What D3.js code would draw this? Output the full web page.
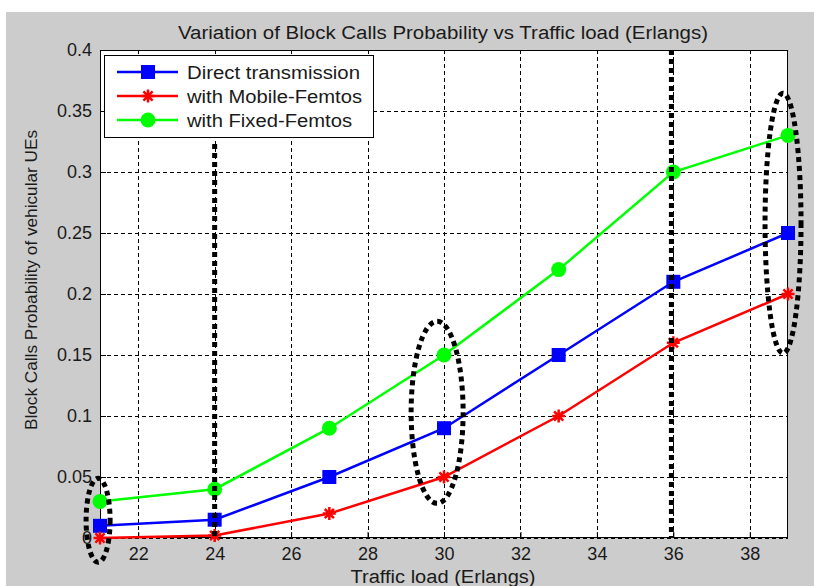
<!DOCTYPE html>
<html><head><meta charset="utf-8">
<script src="https://cdn.jsdelivr.net/npm/d3@7"></script>
<style>
html,body{margin:0;padding:0;background:#fff;}
text{font-family:"Liberation Sans",Arial,sans-serif;fill:#1a1a1a;}
</style></head>
<body><svg id="chart" width="814" height="586"></svg>
<script>
// ---- data ----
const trafficLoad = [21, 24, 27, 30, 33, 36, 39];
const directTransmission = [0.01, 0.015, 0.05, 0.09, 0.15, 0.21, 0.25];
const mobileFemtos = [0.0, 0.002, 0.02, 0.05, 0.10, 0.16, 0.20];
const fixedFemtos = [0.03, 0.04, 0.09, 0.15, 0.22, 0.30, 0.33];
const seriesNames = ["Direct transmission", "with Mobile-Femtos", "with Fixed-Femtos"];
const xTicks = [22, 24, 26, 28, 30, 32, 34, 36, 38];
const yTicks = [0, 0.05, 0.1, 0.15, 0.2, 0.25, 0.3, 0.35, 0.4];
const yTickLabels = ["0", "0.05", "0.1", "0.15", "0.2", "0.25", "0.3", "0.35", "0.4"];
const titleText = "Variation of Block Calls Probability vs Traffic load (Erlangs)";
const xLabel = "Traffic load (Erlangs)";
const yLabel = "Block Calls Probability of vehicular UEs";
// annotation marks (data coordinates)
const markLinesX = [24, 35.95];
const markLinesTop = [0.323, 0.4];
const markEllipseX = [20.95, 29.82, 38.87];
const markEllipseY = [0.0145, 0.103, 0.258];

// ---- layout ----
const W = 814, H = 586;
const L = 100, R = 788, T = 50, B = 538;
const svg = d3.select("#chart");
svg.append("rect").attr("x", 6).attr("y", 12).attr("width", W - 6).attr("height", H - 12).attr("fill", "#cccccc");

const x = d3.scaleLinear().domain([21, 39]).range([L, R]);
const y = d3.scaleLinear().domain([0, 0.4]).range([B, T]);

svg.append("rect").attr("x", L).attr("y", T).attr("width", R - L).attr("height", B - T).attr("fill", "#fff");

// grid
const grid = svg.append("g").attr("stroke", "#000").attr("stroke-width", 1).attr("stroke-dasharray", "4,3").attr("shape-rendering", "crispEdges");
grid.selectAll(".gx").data(xTicks).join("line").attr("x1", d => Math.round(x(d)) + 0.5).attr("x2", d => Math.round(x(d)) + 0.5).attr("y1", T).attr("y2", B);
grid.selectAll(".gy").data(yTicks).join("line").attr("y1", d => Math.round(y(d)) + 0.5).attr("y2", d => Math.round(y(d)) + 0.5).attr("x1", L).attr("x2", R);

// axes
const xAxis = d3.axisBottom(x).tickValues(xTicks).tickSize(-6).tickFormat(d3.format("d"));
const yAxis = d3.axisLeft(y).tickValues(yTicks).tickSize(-6).tickPadding(8).tickFormat((d, i) => yTickLabels[i]);
const gx = svg.append("g").attr("transform", `translate(0,${B})`).call(xAxis);
const gy = svg.append("g").attr("transform", `translate(${L},0)`).call(yAxis);
[gx, gy].forEach(g => {
  g.select(".domain").remove();
  g.selectAll(".tick line").attr("stroke", "#000");
  g.selectAll(".tick text").attr("font-size", 18).attr("fill", "#1a1a1a").attr("font-family", "Liberation Sans, Arial, sans-serif");
});
gx.selectAll(".tick text").attr("y", 22).attr("dy", 0);
svg.append("rect").attr("x", L + 0.5).attr("y", T + 0.5).attr("width", R - L - 1).attr("height", B - T - 1).attr("fill", "none").attr("stroke", "#000").attr("stroke-width", 1);

// series
const colors = ["#0000ff", "#ff0000", "#00ff00"];
const allSeries = [directTransmission, mobileFemtos, fixedFemtos];
const line = d3.line().x((d, i) => x(trafficLoad[i])).y(d => y(d));
const markerTypes = ["square", "star", "circle"];
function drawMarker(g, type, cx, cy, color) {
  if (type === "square") {
    g.append("rect").attr("x", cx - 7).attr("y", cy - 7).attr("width", 14).attr("height", 14).attr("fill", color);
  } else if (type === "circle") {
    g.append("circle").attr("cx", cx).attr("cy", cy).attr("r", 7.5).attr("fill", color);
  } else {
    const r = 6.5, p = [];
    for (let k = 0; k < 4; k++) {
      const a = k * Math.PI / 4;
      p.push(`M${cx - r * Math.cos(a)},${cy - r * Math.sin(a)}L${cx + r * Math.cos(a)},${cy + r * Math.sin(a)}`);
    }
    g.append("path").attr("d", p.join("")).attr("stroke", color).attr("stroke-width", 2.5).attr("fill", "none");
  }
}
allSeries.forEach((s, si) => {
  const g = svg.append("g");
  g.append("path").attr("d", line(s)).attr("fill", "none").attr("stroke", colors[si]).attr("stroke-width", 2.5);
  s.forEach((v, i) => drawMarker(g, markerTypes[si], x(trafficLoad[i]), y(v), colors[si]));
});

// annotation dotted marks
const ann = svg.append("g").attr("stroke", "#000").attr("stroke-width", 5).attr("stroke-dasharray", "5,4").attr("fill", "none");
markLinesX.forEach((mx, i) => {
  ann.append("line").attr("x1", x(mx)).attr("x2", x(mx)).attr("y1", y(markLinesTop[i])).attr("y2", y(0));
});
const ellR = [[12, 42], [26, 91], [18, 130]];
markEllipseX.forEach((ex, i) => {
  ann.append("ellipse").attr("cx", x(ex)).attr("cy", y(markEllipseY[i])).attr("rx", ellR[i][0]).attr("ry", ellR[i][1]);
});

// legend
const lg = svg.append("g");
lg.append("rect").attr("x", 104.5).attr("y", 55.5).attr("width", 269).attr("height", 82).attr("fill", "#fff").attr("stroke", "#000");
const legLens = [173, 175, 165];
seriesNames.forEach((n, i) => {
  const ly = 72 + i * 24;
  lg.append("line").attr("x1", 117).attr("x2", 178).attr("y1", ly).attr("y2", ly).attr("stroke", colors[i]).attr("stroke-width", 2.5);
  drawMarker(lg, markerTypes[i], 148, ly, colors[i]);
  lg.append("text").attr("x", 187).attr("y", ly + 6.5).attr("font-size", 18).attr("textLength", legLens[i]).attr("lengthAdjust", "spacingAndGlyphs").text(n);
});

// titles
svg.append("text").attr("x", 443).attr("y", 39).attr("text-anchor", "middle").attr("font-size", 18).attr("textLength", 530).attr("lengthAdjust", "spacingAndGlyphs").text(titleText);
svg.append("text").attr("x", 443).attr("y", 583).attr("text-anchor", "middle").attr("font-size", 18).attr("textLength", 185).attr("lengthAdjust", "spacingAndGlyphs").text(xLabel);
svg.append("text").attr("transform", "translate(37,280) rotate(-90)").attr("text-anchor", "middle").attr("font-size", 17).attr("textLength", 300).attr("lengthAdjust", "spacingAndGlyphs").text(yLabel);
</script></body></html>
